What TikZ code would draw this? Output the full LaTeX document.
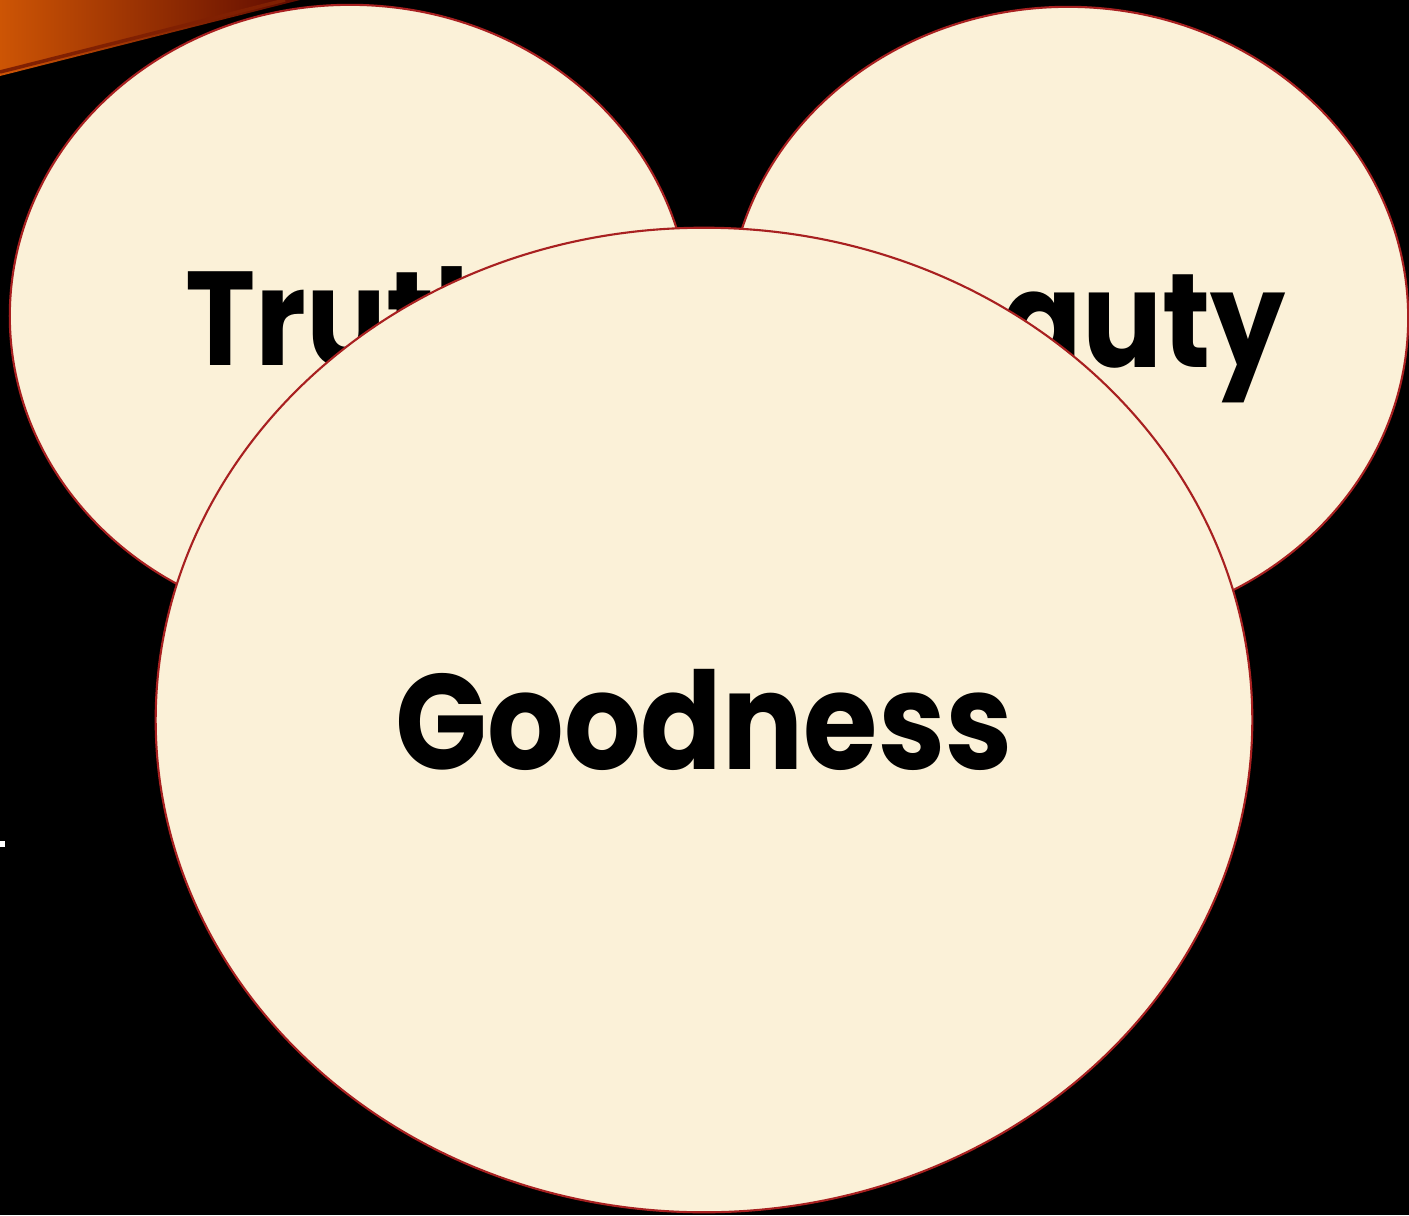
\documentclass[tikz,border=0pt]{standalone}
\usepackage{fontspec}
\setmainfont{Poppins}[FakeStretch=0.89]
\usepackage{xcolor}
\usetikzlibrary{shapes.geometric,positioning}

\definecolor{cream}{RGB}{251,241,216}
\definecolor{rim}{RGB}{168,32,32}
\definecolor{flame}{RGB}{205,85,5}
\definecolor{ember}{RGB}{95,10,0}

\begin{document}
\begin{tikzpicture}[x=0.01cm, y=-0.01cm,
    virtue/.style={ellipse, draw=rim, fill=cream, line width=0.6pt, inner sep=0pt,
                   font=\fontsize{38}{38}\selectfont\bfseries, text=black,
                   text height=28.4pt, text depth=0pt}]
  % background
  \fill[black] (0,0) rectangle (1409,1215);
  \useasboundingbox (0,0) rectangle (1409,1215);
  \shade[left color=flame, right color=ember] (0,0) -- (300,0) -- (0,76) -- cycle;
  \draw[ember!70!flame, line width=1pt] (0,72) -- (285,0);
  \fill[white] (0,841) rectangle (5,847);

  \node[virtue, minimum width=6.8cm, minimum height=6.22cm] (truth) at (350,316) {Truth};
  \node[virtue, minimum width=6.8cm, minimum height=6.22cm] (beauty) at (1068,318) {Beauty};
  \node[virtue, minimum width=10.96cm, minimum height=9.84cm, font=\fontsize{38.5}{38.5}\selectfont\bfseries] (goodness) at (704,720) {Goodness};
\end{tikzpicture}
\end{document}
